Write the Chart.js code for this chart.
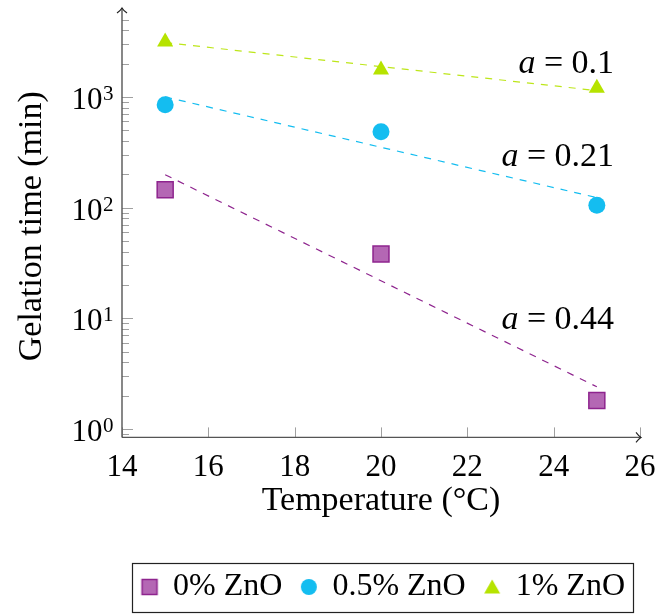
<!DOCTYPE html>
<html>
<head>
<meta charset="utf-8">
<script src="https://cdn.jsdelivr.net/npm/chart.js@4.4.1/dist/chart.umd.min.js"></script>
<style>
  html, body { margin: 0; padding: 0; background: #fff; }
</style>
</head>
<body>
<canvas id="gel-chart" width="656" height="615"></canvas>
<script>
// measured points
const temps = [15, 20, 25];
const zno0 = [145, 38, 1.8];
const zno05 = [850, 485, 105];
const zno1 = [3150, 1760, 1200];

// fitted exponential lines (end values at 15 and 25 °C)
const fitTemps = [15, 25];
const fit0 = [198, 2.4];
const fit05 = [1000, 123];
const fit1 = [3100, 1140];

const seriesNames = ['0% ZnO', '0.5% ZnO', '1% ZnO'];
const fitRates = ['0.44', '0.21', '0.1'];
const xTicks = [14, 16, 18, 20, 22, 24, 26];
const yDecades = [0, 1, 2, 3];

const serif = "'Liberation Serif', 'DejaVu Serif', serif";
const purple = '#8e248e', purpleFill = '#b467b4';
const cyan = '#14bdf0';
const lime = '#b6e300';

function pts(xs, ys) {
  return xs.map((x, i) => ({ x: x, y: ys[i] }));
}

// small canvases for the legend markers
function markerImage(kind, fill, stroke) {
  const c = document.createElement('canvas');
  c.width = 20; c.height = 20;
  const g = c.getContext('2d');
  g.fillStyle = fill; g.strokeStyle = stroke; g.lineWidth = 1.5;
  g.beginPath();
  if (kind === 'rect') {
    g.rect(2.5, 2.5, 15, 15);
  } else if (kind === 'circle') {
    g.arc(10, 10, 8, 0, Math.PI * 2);
  } else {
    g.moveTo(10, 2.5); g.lineTo(18, 16.5); g.lineTo(2, 16.5); g.closePath();
  }
  g.fill();
  if (stroke) g.stroke();
  return c;
}
const legendMarks = [
  markerImage('rect', purpleFill, purple),
  markerImage('circle', cyan, null),
  markerImage('tri', lime, null)
];

const dataG = {
  datasets: [{
    label: seriesNames[0],
    data: pts(temps, zno0),
    pointStyle: 'rect',
    pointRadius: 11.3,
    pointHoverRadius: 11.3,
    backgroundColor: purpleFill,
    borderColor: purple,
    borderWidth: 1.5,
    order: 1
  }, {
    label: seriesNames[1],
    data: pts(temps, zno05),
    pointStyle: 'circle',
    pointRadius: 8.5,
    pointHoverRadius: 8.5,
    backgroundColor: cyan,
    borderColor: cyan,
    borderWidth: 0,
    order: 1
  }, {
    label: seriesNames[2],
    data: pts(temps, zno1),
    pointStyle: 'triangle',
    pointRadius: 9.3,
    pointHoverRadius: 9.3,
    backgroundColor: lime,
    borderColor: lime,
    borderWidth: 0,
    order: 1
  }, {
    label: 'fit 0',
    data: pts(fitTemps, fit0),
    showLine: true,
    pointRadius: 0,
    borderColor: purple,
    borderWidth: 1.2,
    borderDash: [7, 7],
    order: 2
  }, {
    label: 'fit 0.5',
    data: pts(fitTemps, fit05),
    showLine: true,
    pointRadius: 0,
    borderColor: cyan,
    borderWidth: 1.2,
    borderDash: [7, 7],
    order: 2
  }, {
    label: 'fit 1',
    data: pts(fitTemps, fit1),
    showLine: true,
    pointRadius: 0,
    borderColor: '#bde61a',
    borderWidth: 1.2,
    borderDash: [7, 7],
    order: 2
  }]
};

// where the "a = ..." notes sit (data coordinates, right aligned)
const notePos = [
  { x: 25.4, y: 9.7 },
  { x: 25.4, y: 286 },
  { x: 25.4, y: 2000 }
];

function seg(ctx, x1, y1, x2, y2) {
  ctx.beginPath(); ctx.moveTo(x1, y1); ctx.lineTo(x2, y2); ctx.stroke();
}

const pgfAxes = {
  id: 'pgfAxes',
  beforeDatasetsDraw(chart) {
    const { ctx, chartArea: a, scales: { x, y } } = chart;
    ctx.save();
    ctx.strokeStyle = '#a0a0a0';
    ctx.lineWidth = 1;
    xTicks.forEach(v => {
      const px = Math.round(x.getPixelForValue(v)) + 0.5;
      seg(ctx, px, a.bottom, px, a.bottom - 10);
    });
    for (let k = -1; k <= 4; k++) {
      for (let m = 1; m <= 9; m++) {
        const v = m * Math.pow(10, k);
        if (v < y.min || v > y.max) continue;
        const py = Math.round(y.getPixelForValue(v)) + 0.5;
        seg(ctx, a.left, py, a.left + (m === 1 ? 11 : 7), py);
      }
    }
    ctx.strokeStyle = '#555';
    ctx.lineWidth = 1.4;
    seg(ctx, a.left, a.bottom, a.left, 8);
    seg(ctx, a.left, a.bottom, a.right + 1, a.bottom);
    ctx.lineWidth = 1.1;
    ctx.strokeStyle = '#222';
    ctx.beginPath();
    ctx.moveTo(a.left - 5, 13); ctx.quadraticCurveTo(a.left - 1, 10, a.left, 8);
    ctx.quadraticCurveTo(a.left + 1, 10, a.left + 5, 13);
    ctx.stroke();
    ctx.beginPath();
    ctx.moveTo(a.right - 4, a.bottom - 5); ctx.quadraticCurveTo(a.right - 1, a.bottom - 1, a.right + 1, a.bottom);
    ctx.quadraticCurveTo(a.right - 1, a.bottom + 1, a.right - 4, a.bottom + 5);
    ctx.stroke();
    ctx.restore();
  },
  afterDraw(chart) {
    const { ctx, chartArea: a, scales: { x, y } } = chart;
    ctx.save();
    ctx.fillStyle = '#000';
    // y tick labels 10^k
    yDecades.forEach(k => {
      const py = y.getPixelForValue(Math.pow(10, k));
      ctx.font = '21px ' + serif;
      ctx.textAlign = 'left';
      ctx.textBaseline = 'alphabetic';
      ctx.fillText(String(k), a.left - 19, py + 3);
      ctx.font = '31px ' + serif;
      ctx.textAlign = 'right';
      ctx.fillText('10', a.left - 19.5, py + 12);
    });
    // slope notes
    notePos.forEach((p, i) => {
      const px = x.getPixelForValue(p.x);
      const py = y.getPixelForValue(p.y);
      const rest = ' = ' + fitRates[i];
      ctx.textBaseline = 'middle';
      ctx.textAlign = 'left';
      ctx.font = '34px ' + serif;
      const wRest = ctx.measureText(rest).width;
      ctx.font = 'italic 34px ' + serif;
      const wA = ctx.measureText('a').width;
      const x0 = px - wRest - wA;
      ctx.fillText('a', x0, py);
      ctx.font = '34px ' + serif;
      ctx.fillText(rest, x0 + wA, py);
    });
    // legend frame
    const boxes = chart.legend.legendHitBoxes;
    if (boxes && boxes.length) {
      let l = Infinity, r = -Infinity, cy = 0;
      boxes.forEach(b => {
        l = Math.min(l, b.left);
        r = Math.max(r, b.left + b.width);
        cy += b.top + b.height / 2;
      });
      cy /= boxes.length;
      ctx.strokeStyle = '#222';
      ctx.lineWidth = 1.2;
      ctx.strokeRect(Math.round(l - 10) + 0.5, Math.round(cy - 24) + 0.5, Math.round(r - l + 18), 49);
    }
    ctx.restore();
  }
};

const configG = {
  type: 'scatter',
  data: dataG,
  plugins: [pgfAxes],
  options: {
    responsive: false,
    animation: false,
    layout: { padding: { left: 10, right: 12, top: 15, bottom: 2 } },
    scales: {
      x: {
        type: 'linear',
        min: 14,
        max: 26,
        grid: { display: false },
        border: { display: false },
        afterBuildTicks(scale) {
          scale.ticks = xTicks.map(v => ({ value: v }));
        },
        afterFit(scale) {
          scale.height = 114.6;
          scale.paddingRight = 16;
        },
        ticks: {
          autoSkip: false,
          maxRotation: 0,
          padding: 4,
          color: '#000',
          font: { family: serif, size: 31 }
        },
        title: {
          display: true,
          text: 'Temperature (°C)',
          color: '#000',
          font: { family: serif, size: 34 },
          padding: { top: 0, bottom: 30.2 }
        }
      },
      y: {
        type: 'logarithmic',
        min: 0.837,
        max: 5500,
        grid: { display: false },
        border: { display: false },
        ticks: { display: false },
        afterFit(scale) { scale.width = 112; },
        title: {
          display: true,
          text: 'Gelation time (min)',
          color: '#000',
          font: { family: serif, size: 34 },
          padding: { top: 2, bottom: 4 }
        }
      }
    },
    plugins: {
      tooltip: { enabled: false },
      legend: {
        position: 'bottom',
        align: 'end',
        labels: {
          usePointStyle: true,
          boxWidth: 15,
          boxHeight: 15,
          padding: 19,
          color: '#000',
          font: { family: serif, size: 32 },
          generateLabels(chart) {
            const items = Chart.defaults.plugins.legend.labels.generateLabels(chart);
            return items.filter(it => it.datasetIndex < 3).map(it => {
              it.pointStyle = legendMarks[it.datasetIndex];
              return it;
            });
          }
        }
      }
    }
  }
};

let gelObj = document.getElementById('gel-chart');
let gelChart = new Chart(gelObj, configG);
</script>
</body>
</html>
